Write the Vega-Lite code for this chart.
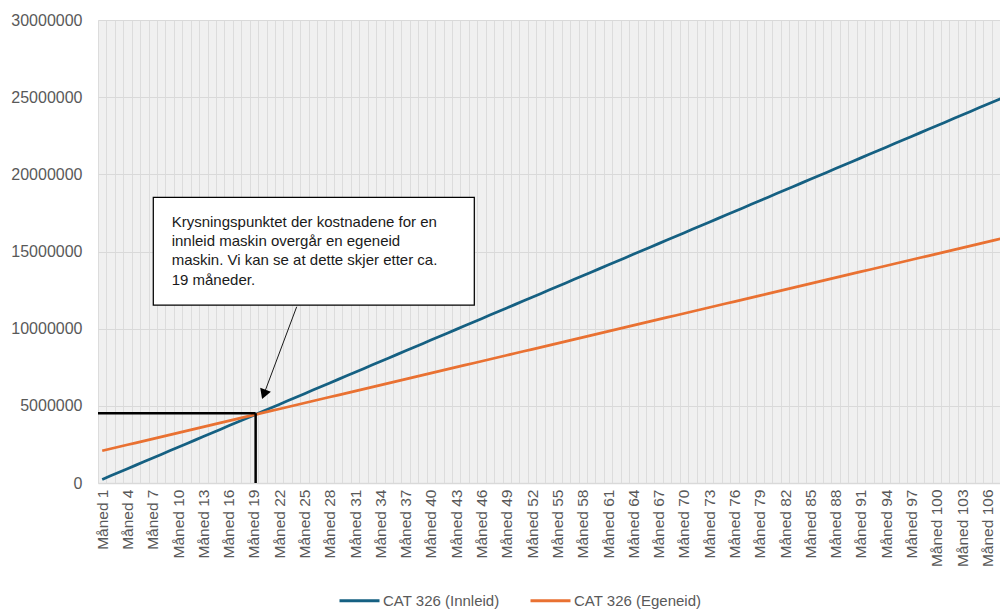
{
  "$schema": "https://vega.github.io/schema/vega-lite/v6.json",
  "width": 902,
  "height": 463,
  "autosize": {"type": "none"},
  "padding": {"left": 98, "top": 20, "right": 0, "bottom": 127},
  "background": "white",
  "config": {"view": {"fill": "#f0f0f0", "stroke": null}, "font": "Liberation Sans"},
  "datasets": {
    "costs": [
      {"m":1,"Innleid":231500,"Egeneid":2089900},{"m":2,"Innleid":463000,"Egeneid":2218800},{"m":3,"Innleid":694500,"Egeneid":2347700},{"m":4,"Innleid":926000,"Egeneid":2476600},{"m":5,"Innleid":1157500,"Egeneid":2605500},{"m":6,"Innleid":1389000,"Egeneid":2734400},{"m":7,"Innleid":1620500,"Egeneid":2863300},{"m":8,"Innleid":1852000,"Egeneid":2992200},{"m":9,"Innleid":2083500,"Egeneid":3121100},{"m":10,"Innleid":2315000,"Egeneid":3250000},
      {"m":11,"Innleid":2546500,"Egeneid":3378900},{"m":12,"Innleid":2778000,"Egeneid":3507800},{"m":13,"Innleid":3009500,"Egeneid":3636700},{"m":14,"Innleid":3241000,"Egeneid":3765600},{"m":15,"Innleid":3472500,"Egeneid":3894500},{"m":16,"Innleid":3704000,"Egeneid":4023400},{"m":17,"Innleid":3935500,"Egeneid":4152300},{"m":18,"Innleid":4167000,"Egeneid":4281200},{"m":19,"Innleid":4398500,"Egeneid":4410100},{"m":20,"Innleid":4630000,"Egeneid":4539000},
      {"m":21,"Innleid":4861500,"Egeneid":4667900},{"m":22,"Innleid":5093000,"Egeneid":4796800},{"m":23,"Innleid":5324500,"Egeneid":4925700},{"m":24,"Innleid":5556000,"Egeneid":5054600},{"m":25,"Innleid":5787500,"Egeneid":5183500},{"m":26,"Innleid":6019000,"Egeneid":5312400},{"m":27,"Innleid":6250500,"Egeneid":5441300},{"m":28,"Innleid":6482000,"Egeneid":5570200},{"m":29,"Innleid":6713500,"Egeneid":5699100},{"m":30,"Innleid":6945000,"Egeneid":5828000},
      {"m":31,"Innleid":7176500,"Egeneid":5956900},{"m":32,"Innleid":7408000,"Egeneid":6085800},{"m":33,"Innleid":7639500,"Egeneid":6214700},{"m":34,"Innleid":7871000,"Egeneid":6343600},{"m":35,"Innleid":8102500,"Egeneid":6472500},{"m":36,"Innleid":8334000,"Egeneid":6601400},{"m":37,"Innleid":8565500,"Egeneid":6730300},{"m":38,"Innleid":8797000,"Egeneid":6859200},{"m":39,"Innleid":9028500,"Egeneid":6988100},{"m":40,"Innleid":9260000,"Egeneid":7117000},
      {"m":41,"Innleid":9491500,"Egeneid":7245900},{"m":42,"Innleid":9723000,"Egeneid":7374800},{"m":43,"Innleid":9954500,"Egeneid":7503700},{"m":44,"Innleid":10186000,"Egeneid":7632600},{"m":45,"Innleid":10417500,"Egeneid":7761500},{"m":46,"Innleid":10649000,"Egeneid":7890400},{"m":47,"Innleid":10880500,"Egeneid":8019300},{"m":48,"Innleid":11112000,"Egeneid":8148200},{"m":49,"Innleid":11343500,"Egeneid":8277100},{"m":50,"Innleid":11575000,"Egeneid":8406000},
      {"m":51,"Innleid":11806500,"Egeneid":8534900},{"m":52,"Innleid":12038000,"Egeneid":8663800},{"m":53,"Innleid":12269500,"Egeneid":8792700},{"m":54,"Innleid":12501000,"Egeneid":8921600},{"m":55,"Innleid":12732500,"Egeneid":9050500},{"m":56,"Innleid":12964000,"Egeneid":9179400},{"m":57,"Innleid":13195500,"Egeneid":9308300},{"m":58,"Innleid":13427000,"Egeneid":9437200},{"m":59,"Innleid":13658500,"Egeneid":9566100},{"m":60,"Innleid":13890000,"Egeneid":9695000},
      {"m":61,"Innleid":14121500,"Egeneid":9823900},{"m":62,"Innleid":14353000,"Egeneid":9952800},{"m":63,"Innleid":14584500,"Egeneid":10081700},{"m":64,"Innleid":14816000,"Egeneid":10210600},{"m":65,"Innleid":15047500,"Egeneid":10339500},{"m":66,"Innleid":15279000,"Egeneid":10468400},{"m":67,"Innleid":15510500,"Egeneid":10597300},{"m":68,"Innleid":15742000,"Egeneid":10726200},{"m":69,"Innleid":15973500,"Egeneid":10855100},{"m":70,"Innleid":16205000,"Egeneid":10984000},
      {"m":71,"Innleid":16436500,"Egeneid":11112900},{"m":72,"Innleid":16668000,"Egeneid":11241800},{"m":73,"Innleid":16899500,"Egeneid":11370700},{"m":74,"Innleid":17131000,"Egeneid":11499600},{"m":75,"Innleid":17362500,"Egeneid":11628500},{"m":76,"Innleid":17594000,"Egeneid":11757400},{"m":77,"Innleid":17825500,"Egeneid":11886300},{"m":78,"Innleid":18057000,"Egeneid":12015200},{"m":79,"Innleid":18288500,"Egeneid":12144100},{"m":80,"Innleid":18520000,"Egeneid":12273000},
      {"m":81,"Innleid":18751500,"Egeneid":12401900},{"m":82,"Innleid":18983000,"Egeneid":12530800},{"m":83,"Innleid":19214500,"Egeneid":12659700},{"m":84,"Innleid":19446000,"Egeneid":12788600},{"m":85,"Innleid":19677500,"Egeneid":12917500},{"m":86,"Innleid":19909000,"Egeneid":13046400},{"m":87,"Innleid":20140500,"Egeneid":13175300},{"m":88,"Innleid":20372000,"Egeneid":13304200},{"m":89,"Innleid":20603500,"Egeneid":13433100},{"m":90,"Innleid":20835000,"Egeneid":13562000},
      {"m":91,"Innleid":21066500,"Egeneid":13690900},{"m":92,"Innleid":21298000,"Egeneid":13819800},{"m":93,"Innleid":21529500,"Egeneid":13948700},{"m":94,"Innleid":21761000,"Egeneid":14077600},{"m":95,"Innleid":21992500,"Egeneid":14206500},{"m":96,"Innleid":22224000,"Egeneid":14335400},{"m":97,"Innleid":22455500,"Egeneid":14464300},{"m":98,"Innleid":22687000,"Egeneid":14593200},{"m":99,"Innleid":22918500,"Egeneid":14722100},{"m":100,"Innleid":23150000,"Egeneid":14851000},
      {"m":101,"Innleid":23381500,"Egeneid":14979900},{"m":102,"Innleid":23613000,"Egeneid":15108800},{"m":103,"Innleid":23844500,"Egeneid":15237700},{"m":104,"Innleid":24076000,"Egeneid":15366600},{"m":105,"Innleid":24307500,"Egeneid":15495500},{"m":106,"Innleid":24539000,"Egeneid":15624400},{"m":107,"Innleid":24770500,"Egeneid":15753300},{"m":108,"Innleid":25002000,"Egeneid":15882200}
    ]
  },
  "layer": [
    {
      "data": {"name": "costs"},
      "transform": [{"fold": ["Innleid", "Egeneid"], "as": ["serie", "kostnad"]}],
      "mark": {"type": "line", "strokeWidth": 2.75, "clip": true},
      "encoding": {
        "x": {
          "field": "m", "type": "quantitative",
          "scale": {"domain": [0.5, 107.5], "nice": false, "zero": false},
          "axis": {
            "title": null,
            "values": [1,2,3,4,5,6,7,8,9,10,11,12,13,14,15,16,17,18,19,20,21,22,23,24,25,26,27,28,29,30,31,32,33,34,35,36,37,38,39,40,41,42,43,44,45,46,47,48,49,50,51,52,53,54,55,56,57,58,59,60,61,62,63,64,65,66,67,68,69,70,71,72,73,74,75,76,77,78,79,80,81,82,83,84,85,86,87,88,89,90,91,92,93,94,95,96,97,98,99,100,101,102,103,104,105,106,107],
            "tickCount": 200,
            "tickOffset": -4.215,
            "labelOffset": 4.215,
            "labelExpr": "(datum.value - 1) % 3 == 0 ? 'Måned ' + datum.value : ''",
            "labelAngle": -90,
            "labelOverlap": false,
            "labelBound": false,
            "labelFlush": false,
            "labelFontSize": 15.5,
            "labelColor": "#595959",
            "labelPadding": 6,
            "ticks": false,
            "grid": true,
            "gridColor": "#dcdcdc",
            "gridWidth": 1,
            "domainColor": "#d9d9d9",
            "domainWidth": 1.5
          }
        },
        "y": {
          "field": "kostnad", "type": "quantitative",
          "scale": {"domain": [0, 30000000], "nice": false},
          "axis": {
            "title": null,
            "values": [0, 5000000, 10000000, 15000000, 20000000, 25000000, 30000000],
            "format": "d",
            "labelFontSize": 16,
            "labelColor": "#595959",
            "labelPadding": 16,
            "ticks": false,
            "domain": false,
            "grid": true,
            "gridColor": "#d9d9d9",
            "gridWidth": 1
          }
        },
        "color": {
          "field": "serie", "type": "nominal",
          "scale": {"domain": ["Innleid", "Egeneid"], "range": ["#156082", "#E97132"]},
          "legend": {
            "title": null,
            "orient": "none",
            "legendX": 240,
            "legendY": 559,
            "direction": "horizontal",
            "symbolType": "stroke",
            "symbolSize": 1600,
            "symbolStrokeWidth": 3,
            "labelFontSize": 15,
            "labelColor": "#595959",
            "labelOffset": 2,
            "columnPadding": 24,
            "labelExpr": "'CAT 326 (' + datum.label + ')'"
          }
        }
      }
    },
    {
      "data": {"values": [
        {"m": 0.5, "m2": 19.2, "kostnad": 4520000, "kostnad2": 4520000},
        {"m": 19.2, "m2": 19.2, "kostnad": 0, "kostnad2": 4520000}
      ]},
      "mark": {"type": "rule", "color": "black", "strokeWidth": 2.5},
      "encoding": {
        "x": {"field": "m", "type": "quantitative", "scale": {"domain": [0.5, 107.5], "nice": false, "zero": false}},
        "x2": {"field": "m2"},
        "y": {"field": "kostnad", "type": "quantitative", "scale": {"domain": [0, 30000000], "nice": false}},
        "y2": {"field": "kostnad2"}
      }
    },
    {
      "data": {"values": [{"m": 7.06, "m2": 45.14, "kostnad": 11530000, "kostnad2": 18510000}]},
      "mark": {"type": "rect", "fill": "white", "stroke": "black", "strokeWidth": 1.25},
      "encoding": {
        "x": {"field": "m", "type": "quantitative", "scale": {"domain": [0.5, 107.5], "nice": false, "zero": false}},
        "x2": {"field": "m2"},
        "y": {"field": "kostnad", "type": "quantitative", "scale": {"domain": [0, 30000000], "nice": false}},
        "y2": {"field": "kostnad2"}
      }
    },
    {
      "data": {"values": [{"m": 9.24, "kostnad": 16610000, "tekst": "Krysningspunktet der kostnadene for en\ninnleid maskin overgår en egeneid\nmaskin. Vi kan se at dette skjer etter ca.\n19 måneder."}]},
      "mark": {"type": "text", "align": "left", "baseline": "alphabetic", "fontSize": 15, "lineHeight": 19.3, "lineBreak": "\n", "color": "#1a1a1a"},
      "encoding": {
        "x": {"field": "m", "type": "quantitative", "scale": {"domain": [0.5, 107.5], "nice": false, "zero": false}},
        "y": {"field": "kostnad", "type": "quantitative", "scale": {"domain": [0, 30000000], "nice": false}},
        "text": {"field": "tekst"}
      }
    },
    {
      "data": {"values": [{"m": 24.07, "m2": 20.17, "kostnad": 11420000, "kostnad2": 5740000}]},
      "mark": {"type": "rule", "color": "#1a1a1a", "strokeWidth": 1},
      "encoding": {
        "x": {"field": "m", "type": "quantitative", "scale": {"domain": [0.5, 107.5], "nice": false, "zero": false}},
        "x2": {"field": "m2"},
        "y": {"field": "kostnad", "type": "quantitative", "scale": {"domain": [0, 30000000], "nice": false}},
        "y2": {"field": "kostnad2"}
      }
    },
    {
      "data": {"values": [{"m": 20.17, "kostnad": 5740000}]},
      "mark": {"type": "point", "shape": "triangle-down", "angle": 20.6, "size": 130, "filled": true, "color": "black", "opacity": 1},
      "encoding": {
        "x": {"field": "m", "type": "quantitative", "scale": {"domain": [0.5, 107.5], "nice": false, "zero": false}},
        "y": {"field": "kostnad", "type": "quantitative", "scale": {"domain": [0, 30000000], "nice": false}}
      }
    }
  ]
}
